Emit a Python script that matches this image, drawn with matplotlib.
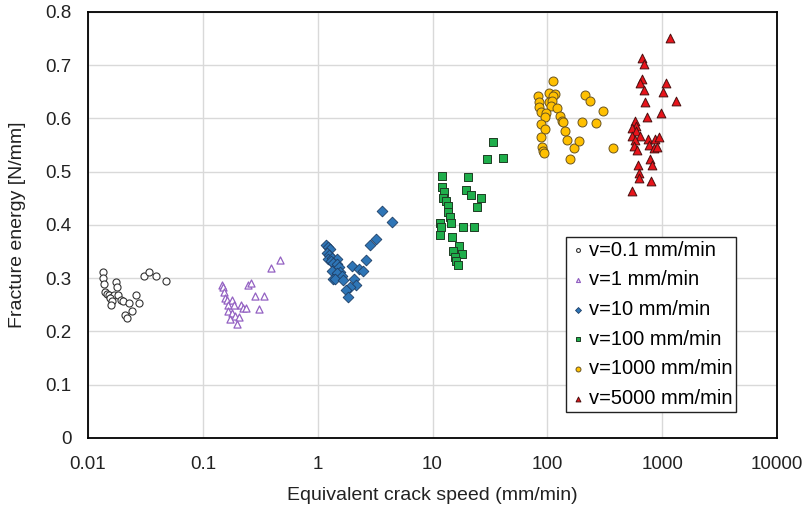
import numpy as np
import matplotlib.pyplot as plt

plt.rcParams['font.family'] = ['Liberation Sans', 'DejaVu Sans']

# v = 0.1 mm/min
x01 = [0.01343, 0.01359, 0.01387, 0.01754, 0.01778, 0.01415, 0.01455, 0.01524, 0.01608, 0.01695,
       0.01836, 0.01554, 0.01628, 0.01576, 0.01927, 0.02030, 0.02290, 0.02603, 0.02764, 0.02432,
       0.02087, 0.02186, 0.03057, 0.03400, 0.03911, 0.04779]
y01 = [0.312, 0.301, 0.289, 0.292, 0.283, 0.274, 0.270, 0.268, 0.265, 0.268,
       0.268, 0.262, 0.257, 0.250, 0.260, 0.258, 0.253, 0.269, 0.2535, 0.238,
       0.231, 0.226, 0.304, 0.312, 0.304, 0.294]

# v = 1 mm/min
x1 = [0.1479, 0.1509, 0.1530, 0.1570, 0.1615, 0.1796, 0.1648, 0.1870, 0.2139, 0.2240,
      0.2379, 0.1668, 0.1785, 0.1919, 0.2067, 0.1725, 0.1998, 0.2490, 0.2645, 0.2849,
      0.3434, 0.3106, 0.3928, 0.4732]
y1 = [0.288, 0.284, 0.274, 0.262, 0.259, 0.260, 0.250, 0.249, 0.250, 0.244,
      0.245, 0.2385, 0.235, 0.230, 0.227, 0.2235, 0.214, 0.288, 0.2905, 0.267,
      0.267, 0.242, 0.319, 0.335]

# v = 10 mm/min
x10 = [1.176, 1.239, 1.282, 1.215, 1.264, 1.232, 1.327, 1.467, 1.300, 1.354,
       1.476, 1.527, 1.343, 1.576, 1.467, 1.622, 1.370, 1.426, 1.655, 2.087,
       1.982, 2.308, 2.501, 2.657, 2.860, 3.227, 2.173, 1.915, 1.757, 1.829,
       3.661, 4.421]
y10 = [0.3625, 0.358, 0.354, 0.348, 0.343, 0.336, 0.3375, 0.336, 0.333, 0.329,
       0.327, 0.321, 0.3136, 0.312, 0.310, 0.304, 0.299, 0.298, 0.297, 0.298,
       0.3225, 0.318, 0.3136, 0.334, 0.362, 0.373, 0.287, 0.2836, 0.278, 0.264,
       0.426, 0.406]

# v = 100 mm/min
x100 = [33.72, 29.90, 41.21, 12.05, 20.30, 12.20, 12.62, 19.74, 21.83, 12.44,
        13.13, 13.59, 26.35, 24.46, 13.75, 14.23, 14.43, 11.65, 11.88, 18.58,
        22.89, 11.65, 14.73, 17.16, 15.21, 17.99, 15.73, 16.05, 16.61]
y100 = [0.555, 0.524, 0.526, 0.4926, 0.4896, 0.472, 0.462, 0.4657, 0.456, 0.450,
        0.4456, 0.4357, 0.450, 0.434, 0.425, 0.4145, 0.404, 0.404, 0.397, 0.396,
        0.396, 0.381, 0.377, 0.361, 0.351, 0.3455, 0.339, 0.332, 0.325]

# v = 1000 mm/min
x1000 = [112.3, 82.65, 103.7, 116.2, 113.0, 84.3, 103.1, 110.1, 85.3, 107.9,
         121.0, 87.8, 97.0, 127.5, 95.7, 132.7, 137.3, 88.3, 95.1, 142.9,
         87.8, 147.9, 89.6, 91.4, 92.5, 168.8, 188.1, 155.8, 214.7, 236.0,
         302.0, 199.8, 264.5, 369.0]
y1000 = [0.670, 0.643, 0.648, 0.646, 0.642, 0.630, 0.630, 0.632, 0.621, 0.624,
         0.619, 0.612, 0.610, 0.605, 0.602, 0.595, 0.593, 0.590, 0.580, 0.577,
         0.565, 0.559, 0.547, 0.538, 0.535, 0.545, 0.558, 0.523, 0.644, 0.632,
         0.6135, 0.593, 0.5915, 0.545]

# v = 5000 mm/min
x5000 = [1158, 660.2, 687.2, 669.5, 643.3, 696.9, 1068, 1014, 1316, 711.0,
         966.5, 740.2, 581.7, 590.0, 547.8, 593.5, 547.8, 634.3, 578.2, 562.3,
         601.9, 750.7, 869.0, 941.6, 766.0, 839.9, 904.7, 775.1, 813.4, 618.0,
         630.6, 626.7, 802.0, 540.1]
y5000 = [0.7506, 0.713, 0.702, 0.675, 0.666, 0.6535, 0.667, 0.650, 0.633, 0.631,
         0.610, 0.602, 0.595, 0.585, 0.5816, 0.5765, 0.5677, 0.567, 0.5596, 0.548,
         0.541, 0.561, 0.561, 0.566, 0.550, 0.544, 0.546, 0.5245, 0.513, 0.512,
         0.498, 0.488, 0.483, 0.4645]

xticks = [0.01, 0.1, 1, 10, 100, 1000, 10000]
xticklabels = ['0.01', '0.1', '1', '10', '100', '1000', '10000']
yticklabels = ['0', '0.1', '0.2', '0.3', '0.4', '0.5', '0.6', '0.7', '0.8']

fig = plt.figure(figsize=(8.04, 5.09), dpi=100)
ax = fig.add_axes([0.1095, 0.1395, 0.857, 0.837])

ax.scatter(x01, y01, s=26, marker='o', facecolor='white', edgecolor='#333333',
           linewidth=0.8, label='v=0.1 mm/min', zorder=3)
ax.scatter(x1, y1, s=26, marker='^', facecolor='white', edgecolor='#9361C2',
           linewidth=0.9, label='v=1 mm/min', zorder=3)
ax.scatter(x10, y10, s=30, marker='D', facecolor='#2E75B6', edgecolor='#1F3F66',
           linewidth=0.6, label='v=10 mm/min', zorder=3)
ax.scatter(x100, y100, s=34, marker='s', facecolor='#1FAE4B', edgecolor='#1E3D24',
           linewidth=0.7, label='v=100 mm/min', zorder=3)
ax.scatter(x1000, y1000, s=42, marker='o', facecolor='#FFC000', edgecolor='#6B5520',
           linewidth=0.7, label='v=1000 mm/min', zorder=3)
ax.scatter(x5000, y5000, s=40, marker='^', facecolor='#E8141B', edgecolor='#4A1010',
           linewidth=0.7, label='v=5000 mm/min', zorder=3)

ax.set_xscale('log')
ax.set_xlim(0.01, 10000)
ax.set_ylim(0, 0.8)
ax.set_xticks(xticks)
ax.set_xticklabels(xticklabels)
ax.xaxis.set_minor_locator(plt.NullLocator())
ax.set_yticks(np.arange(0, 0.81, 0.1))
ax.set_yticklabels(yticklabels)
ax.tick_params(length=0, labelsize=13.5, colors='#222222')
ax.tick_params(axis='x', pad=13)
ax.tick_params(axis='y', pad=12)
ax.grid(True, color='#D9D9D9', linewidth=1.0, zorder=0)
ax.set_axisbelow(True)
for sp in ax.spines.values():
    sp.set_color('black')
    sp.set_linewidth(1.3)

ax.set_xlabel('Equivalent crack speed (mm/min)', fontsize=14, color='#222222', labelpad=10)
ax.set_ylabel('Fracture energy [N/mm]', fontsize=14, color='#222222', labelpad=14)

leg = ax.legend(loc='lower right', bbox_to_anchor=(0.9405, 0.061), fontsize=14.5,
                markerscale=0.55, handletextpad=0.1, handlelength=0.8,
                labelspacing=0.53, borderpad=0.2, borderaxespad=0,
                fancybox=False, framealpha=1, edgecolor='#222222')
leg.get_frame().set_linewidth(1.0)

fig.savefig('out.png', dpi=100)
